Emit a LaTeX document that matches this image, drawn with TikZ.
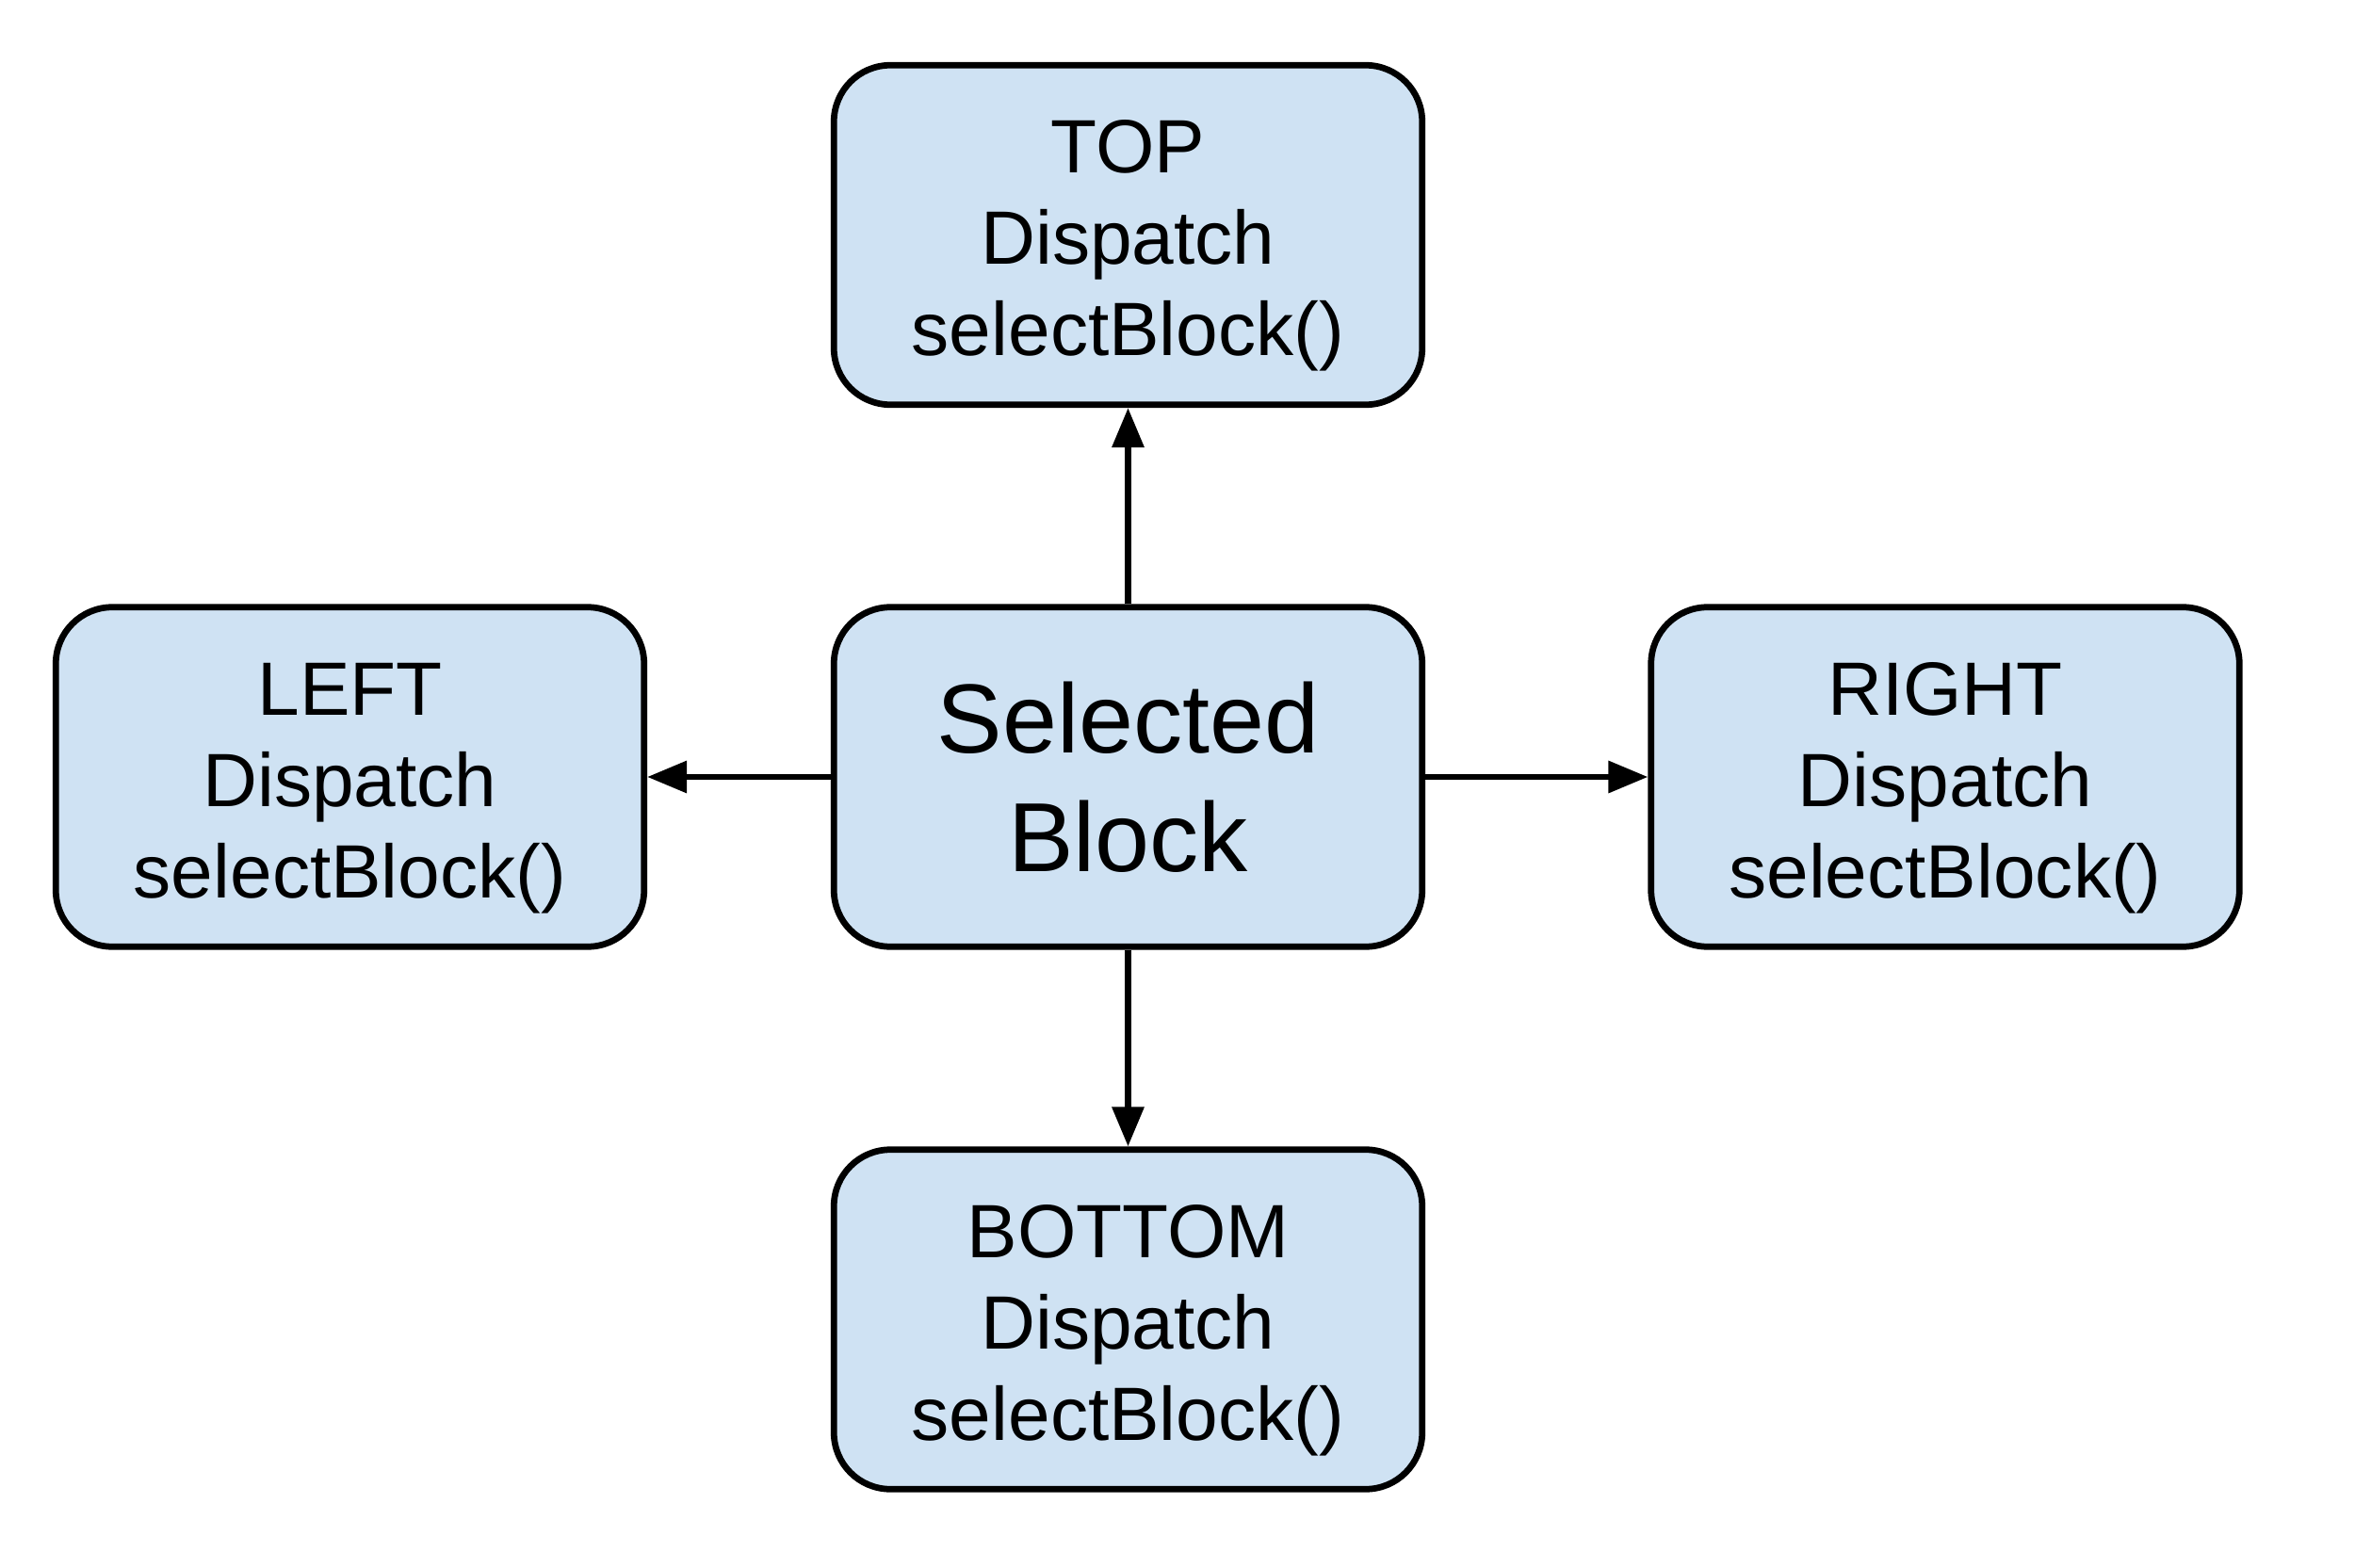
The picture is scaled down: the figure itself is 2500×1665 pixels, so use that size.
\documentclass[tikz,border=0pt]{standalone}
\usepackage{fontspec}
\setmainfont{Liberation Sans}
\usetikzlibrary{arrows.meta}
\definecolor{boxfill}{HTML}{CFE2F3}
\newcommand{\firstln}{\rule{0pt}{31.8pt}}
\tikzset{
  blk/.style={draw=black, fill=boxfill, line width=2.7pt, rounded corners=24pt,
    minimum width=249.8pt, minimum height=144.2pt, align=center, inner sep=0pt,
    font=\fontsize{32.1pt}{38.8pt}\selectfont},
  bigblk/.style={blk, font=\fontsize{41.7pt}{50.5pt}\selectfont},
  conn/.style={line width=2.6pt, -{Triangle[length=16.8pt,width=13.2pt]}}
}
\begin{document}
\begin{tikzpicture}[x=0.4pt,y=-0.4pt]
\useasboundingbox (0,0) rectangle (2500,1665);
\node[bigblk] (c) at (1197.5,825) {Selected\\Block};
\node[blk] (t) at (1197.5,249.5) {\firstln TOP\\Dispatch\\selectBlock()};
\node[blk] (b) at (1197.5,1401) {\firstln BOTTOM\\Dispatch\\selectBlock()};
\node[blk] (l) at (371.5,825) {\firstln LEFT\\Dispatch\\selectBlock()};
\node[blk] (r) at (2065,825) {\firstln RIGHT\\Dispatch\\selectBlock()};
\draw[conn] (c) -- (t);
\draw[conn] (c) -- (b);
\draw[conn] (c) -- (l);
\draw[conn] (c) -- (r);
\end{tikzpicture}
\end{document}
